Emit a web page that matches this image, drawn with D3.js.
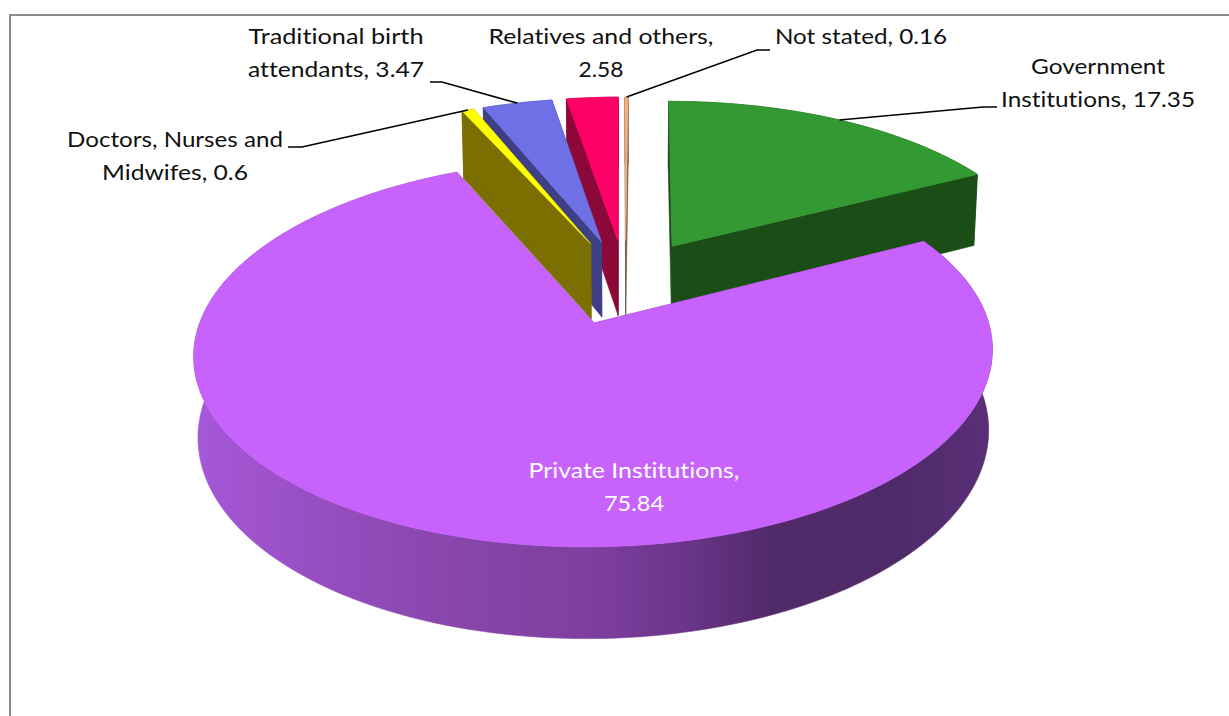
<!DOCTYPE html>
<html>
<head>
<meta charset="utf-8">
<script src="https://cdn.jsdelivr.net/npm/d3@7"></script>
<style>
html,body{margin:0;padding:0;background:#fff;overflow:hidden}
svg{display:block}
text{font-family:Lato,"Open Sans",sans-serif;font-size:22px;fill:#111;font-variant-ligatures:none}
</style>
</head>
<body>
<svg id="c" width="1229" height="716"></svg>
<script>
const categories = ["Government Institutions","Private Institutions","Doctors, Nurses and Midwifes","Traditional birth attendants","Relatives and others","Not stated"];
const values = [17.35,75.84,0.6,3.47,2.58,0.16];
const labelLines = [["Government","Institutions, 17.35"],["Private Institutions,","75.84"],["Doctors, Nurses and","Midwifes, 0.6"],["Traditional birth","attendants, 3.47"],["Relatives and others,","2.58"],["Not stated, 0.16"]];
const labelWidths = [[134,194],[211,60],[216,146],[175,176],[225,45],[172]];
const topColors = ["#339933","#c763fc","#ffff00","#7070e6","#ff0066","#f6b27c"];
const sideColors = ["#1b4d17","#7e3f9f","#7a6f00","#3f3f85","#8c0838","#6f5a48"];
const labelX = [1098,634,175,336,601,861];
const labelY = [74,478,147,44,44,44];
const labelFill = ["#111","#fff","#111","#111","#111","#111"];
const leaderElbows = [[[997,107],[983,107]],null,[[288,147],[302,147]],[[430,82],[442,82]],null,[[770,50],[757,50]]];
const drawOrder = [0,5,4,3,2,1];

const svg = d3.select("#c");
const cx=625.5, cy=281.5, R=381, B=176.5, K=0.15, EXPLODE=0.24, DEPTH=77, SX=0.99, SY=0.99, SHEAR=2.5;

const defs = svg.append("defs");
const grad = defs.append("linearGradient").attr("id","wall").attr("gradientUnits","userSpaceOnUse")
  .attr("x1",195).attr("x2",993).attr("y1",0).attr("y2",0);
[[0,"#a658d8"],[0.12,"#9a50c6"],[0.3,"#8a47ae"],[0.5,"#7d3f9e"],[0.62,"#6a3488"],[0.72,"#512a6a"],[0.88,"#4f2a68"],[1,"#5a2f78"]]
  .forEach(s=>grad.append("stop").attr("offset",s[0]).attr("stop-color",s[1]));

// Frame
svg.append("line").attr("x1",10).attr("x2",1229).attr("y1",15).attr("y2",15).attr("stroke","#8c8c8c").attr("stroke-width",2);
svg.append("line").attr("x1",10).attr("x2",10).attr("y1",14).attr("y2",716).attr("stroke","#8c8c8c").attr("stroke-width",2);

const arcs = d3.pie().sort(null).value(d=>d)(values);
const line = d3.line().x(d=>d[0]).y(d=>d[1]);

function project(a, theta, r, lower){
  const m=(a.startAngle+a.endAngle)/2;
  const U=EXPLODE*Math.sin(m)+r*Math.sin(theta);
  const V=EXPLODE*Math.cos(m)+r*Math.cos(theta);
  const w=1+K*V;
  return lower
    ? [cx+SHEAR*V+SX*R*U/w, cy+DEPTH/w-SY*B*V/w]
    : [cx+SHEAR*V+R*U/w, cy-B*V/w];
}
function arcPts(a,lower,rev){
  const n=Math.max(2,Math.ceil((a.endAngle-a.startAngle)/0.02));
  const pts=d3.range(n+1).map(i=>project(a,a.startAngle+(a.endAngle-a.startAngle)*i/n,1,lower));
  return rev?pts.reverse():pts;
}
function poly(g,pts,fill){
  g.append("path").attr("d",line(pts)+"Z").attr("fill",fill).attr("stroke",fill).attr("stroke-width",0.6).attr("stroke-linejoin","round");
}
drawOrder.forEach(i=>{
  const a=arcs[i];
  const g=svg.append("g");
  const side=sideColors[i];
  [a.startAngle,a.endAngle].forEach(t=>{
    poly(g,[project(a,t,0,false),project(a,t,1,false),project(a,t,1,true),project(a,t,0,true)],side);
  });
  poly(g,arcPts(a,false,false).concat(arcPts(a,true,true)), i===1?"url(#wall)":side);
  poly(g,[project(a,0,0,false)].concat(arcPts(a,false,false)),topColors[i]);
});

// Leaders
leaderElbows.forEach((e,i)=>{
  if(!e) return;
  const a=arcs[i];
  const end=project(a,(a.startAngle+a.endAngle)/2,1,false);
  svg.append("path").attr("d",line(e.concat([end]))).attr("fill","none").attr("stroke","#000").attr("stroke-width",1.6);
});

// Labels
labelLines.forEach((lines,i)=>{
  lines.forEach((s,j)=>svg.append("text").attr("text-anchor","middle").style("fill",labelFill[i])
    .attr("x",labelX[i]).attr("y",labelY[i]+j*33)
    .attr("textLength",labelWidths[i][j]).attr("lengthAdjust","spacingAndGlyphs").text(s));
});
</script>
</body>
</html>
